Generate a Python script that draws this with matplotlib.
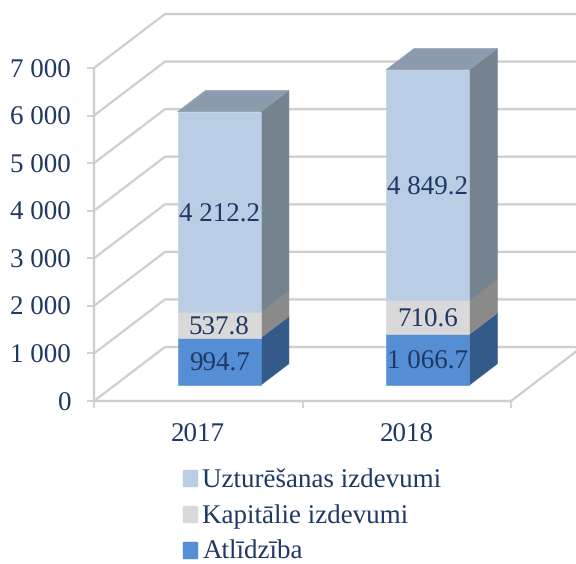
import matplotlib
matplotlib.use("Agg")
import matplotlib.pyplot as plt
from matplotlib.patches import Patch


years = ["2017", "2018"]
atlidziba = [994.7, 1066.7]
kapitalie = [537.8, 710.6]
uzturesana = [4212.2, 4849.2]
y_ticks = [0, 1000, 2000, 3000, 4000, 5000, 6000, 7000]
y_labels = ["0", "1 000", "2 000", "3 000", "4 000", "5 000", "6 000", "7 000"]
series_names = ["Atlīdzība", "Kapitālie izdevumi", "Uzturēšanas izdevumi"]

text_col = "#1F3864"
grid_col = "#CFCFCF"
front_cols = ["#558ED5", "#D9D9D9", "#B9CDE5"]
side_cols = ["#345A89", "#8A8A8A", "#75838F"]
top_col = "#8C9BAD"

# one depth unit moves a point by this much, in data units (oblique 3D look)
depth_x = 71 / 208.5
depth_y = 54 / 47.57 * 1000
bar_w = 0.4
bar_d0 = 0.296
bar_d1 = 0.69

plt.rcParams["font.family"] = ["Liberation Serif", "DejaVu Serif"]
plt.rcParams["text.hinting"] = "no_hinting"
plt.rcParams["text.hinting_factor"] = 1

fig = plt.figure(figsize=(5.76, 5.64), dpi=100)
ax = fig.add_axes([94 / 576, 1 - 401 / 564, 417 / 576, 333 / 564])
ax.set_xlim(0, 2)
ax.set_ylim(0, 7000)


def project(x, v, d):
    return x + d * depth_x, v + d * depth_y


def face(points, color, z):
    xs, ys = zip(*[project(*p) for p in points])
    ax.fill(xs, ys, color=color, lw=0.4, zorder=z, clip_on=False)


# walls
for v in y_ticks:
    x0, y0 = project(0, v, 0)
    x1, y1 = project(0, v, 1)
    x2, y2 = project(2, v, 1)
    ax.plot([x0, x1, x2], [y0, y1, y2], color=grid_col, lw=1.7, zorder=1,
            clip_on=False, solid_joinstyle="miter")

x0, y0 = project(2, 0, 0)
x1, y1 = project(2, 0, 1)
ax.plot([x0, x1], [y0, y1], color=grid_col, lw=1.7, zorder=1, clip_on=False)

# bars
for i in range(len(years)):
    xc = i + 0.5
    xl = xc - bar_w / 2
    xr = xc + bar_w / 2
    base = 0
    values = [atlidziba[i], kapitalie[i], uzturesana[i]]
    for s, val in enumerate(values):
        top = base + val
        face([(xl, base, bar_d0), (xr, base, bar_d0), (xr, top, bar_d0), (xl, top, bar_d0)],
             front_cols[s], 3)
        face([(xr, base, bar_d0), (xr, base, bar_d1), (xr, top, bar_d1), (xr, top, bar_d0)],
             side_cols[s], 2)
        tx, ty = project(xc, base + val / 2, bar_d0)
        ax.text(tx, ty, f"{val:,.1f}".replace(",", " "), ha="center", va="center_baseline",
                color=text_col, fontsize=19.5, zorder=5)
        base = top
    face([(xl, base, bar_d0), (xr, base, bar_d0), (xr, base, bar_d1), (xl, base, bar_d1)],
         top_col, 2)

# axes
ax.patch.set_visible(False)
for side in ["top", "right"]:
    ax.spines[side].set_visible(False)
for side in ["left", "bottom"]:
    ax.spines[side].set_color(grid_col)
    ax.spines[side].set_linewidth(1.7)

ax.set_yticks(y_ticks)
ax.set_yticklabels(y_labels, va="center_baseline")
ax.tick_params(axis="y", length=5, width=1.3, color=grid_col, pad=11.5,
               labelsize=19.5, labelcolor=text_col)
ax.set_xticks([0, 1, 2])
ax.set_xticklabels([])
ax.set_xticks([0.5, 1.5], labels=years, minor=True)
ax.tick_params(axis="x", which="major", length=5, width=1.3, color=grid_col)
ax.tick_params(axis="x", which="minor", length=0, pad=15.5, labelsize=19.5, labelcolor=text_col)

handles = [Patch(color=front_cols[s], label=series_names[s]) for s in [2, 1, 0]]
fig.legend(handles=handles, loc="lower left", bbox_to_anchor=(175 / 576, 1 - 573 / 564),
           frameon=False, fontsize=19.3, labelcolor=text_col, handlelength=0.52,
           handleheight=0.52, handletextpad=0.2, labelspacing=0.42,
           borderpad=0.3, borderaxespad=0)

fig.savefig("out.png", dpi=100)
